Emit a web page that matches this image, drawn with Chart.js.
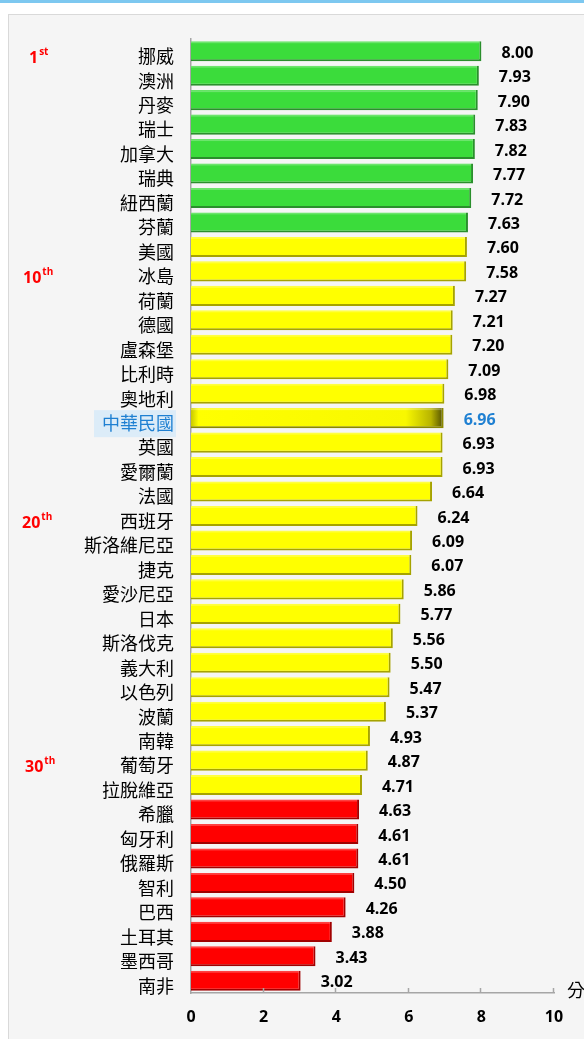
<!DOCTYPE html>
<html><head><meta charset="utf-8">
<script src="https://cdn.jsdelivr.net/npm/chart.js@4.4.1/dist/chart.umd.min.js"></script>
<style>
html,body{margin:0;padding:0;background:#fff;width:584px;height:1039px;overflow:hidden}
#strip{position:absolute;left:0;top:0;width:584px;height:3px;background:#7dc8f0}
#panel{position:absolute;left:8px;top:14px;width:620px;height:1100px;background:#f5f5f5;border:1px solid #d9d9d9}
#wrap{position:absolute;left:0;top:0;width:584px;height:1039px}
</style></head>
<body>
<div id="strip"></div><div id="panel"></div>
<div id="wrap"><canvas id="c"></canvas></div>
<script>
const categories = ['挪威','澳洲','丹麥','瑞士','加拿大','瑞典','紐西蘭','芬蘭','美國','冰島','荷蘭','德國','盧森堡','比利時','奧地利','中華民國','英國','愛爾蘭','法國','西班牙','斯洛維尼亞','捷克','愛沙尼亞','日本','斯洛伐克','義大利','以色列','波蘭','南韓','葡萄牙','拉脫維亞','希臘','匈牙利','俄羅斯','智利','巴西','土耳其','墨西哥','南非'];
const scores = [8.00,7.93,7.90,7.83,7.82,7.77,7.72,7.63,7.60,7.58,7.27,7.21,7.20,7.09,6.98,6.96,6.93,6.93,6.64,6.24,6.09,6.07,5.86,5.77,5.56,5.50,5.47,5.37,4.93,4.87,4.71,4.63,4.61,4.61,4.50,4.26,3.88,3.43,3.02];
const tiers = ['g','g','g','g','g','g','g','g','y','y','y','y','y','y','y','y','y','y','y','y','y','y','y','y','y','y','y','y','y','y','y','r','r','r','r','r','r','r','r'];
const rankMarks = [{num:'1',suf:'st',row:0},{num:'10',suf:'th',row:9},{num:'20',suf:'th',row:19},{num:'30',suf:'th',row:29}];
const xTicks = [0,2,4,6,8,10];
const unitLabel = '分';
const highlight = '中華民國';

const hl = categories.indexOf(highlight);
const fill = {g:'#3bdc3b', y:'#ffff00', r:'#ff0000'};
const edge = {g:'#2a8f2c', y:'#a6a300', r:'#a10000'};
const BLUE = '#1f80d2';
const NUMFONT = '"Open Sans"';

const bgColor = (c) => {
  const i = c.dataIndex;
  if (i === hl && c.chart.chartArea) {
    const xs = c.chart.scales.x;
    const x0 = xs.getPixelForValue(0), x1 = xs.getPixelForValue(scores[i]);
    const g = c.chart.ctx.createLinearGradient(x0, 0, x1, 0);
    g.addColorStop(0, '#c8c800');
    g.addColorStop(0.03, '#ffff00');
    g.addColorStop(0.85, '#f8f800');
    g.addColorStop(0.95, '#b8b400');
    g.addColorStop(1, '#4e4c00');
    return g;
  }
  return fill[tiers[i]];
};

const extras = {
  id: 'extras',
  beforeDraw(chart) {
    const ys = chart.scales.y, ctx = chart.ctx;
    const yc = ys.getPixelForValue(hl) + 6;
    ctx.save();
    ctx.fillStyle = '#dcecf8';
    ctx.fillRect(94, yc - 14, 82, 27);
    ctx.restore();
  },
  afterDatasetsDraw(chart) {
    const ctx = chart.ctx, meta = chart.getDatasetMeta(0);
    const xs = chart.scales.x, ys = chart.scales.y, area = chart.chartArea;
    ctx.save();
    meta.data.forEach((bar) => {
      ctx.fillStyle = 'rgba(255,255,255,0.25)';
      ctx.fillRect(bar.base, bar.y - bar.height / 2, bar.x - bar.base - 2, 2);
    });
    ctx.font = 'bold 16px ' + NUMFONT;
    ctx.textBaseline = 'middle';
    ctx.textAlign = 'left';
    meta.data.forEach((bar, i) => {
      ctx.fillStyle = i === hl ? BLUE : '#000';
      ctx.fillText(scores[i].toFixed(2), bar.x + 20, bar.y + 2);
    });
    ctx.strokeStyle = '#a6a6a6';
    ctx.lineWidth = 1.5;
    xTicks.forEach(v => {
      if (v === 0) return;
      const px = Math.round(xs.getPixelForValue(v)) - 0.5;
      ctx.beginPath();
      ctx.moveTo(px, area.bottom);
      ctx.lineTo(px, area.bottom - 5);
      ctx.stroke();
    });
    ctx.fillStyle = '#000';
    ctx.font = '18px "Noto Sans CJK TC"';
    ctx.textAlign = 'left';
    ctx.fillText(unitLabel, xs.getPixelForValue(10) + 13, area.bottom - 3);
    ctx.fillStyle = '#ff0000';
    const lefts = [29, 23, 22, 25];
    rankMarks.forEach((r, k) => {
      const y = ys.getPixelForValue(r.row) + 7;
      ctx.font = 'bold 16px ' + NUMFONT;
      ctx.textBaseline = 'middle';
      ctx.fillText(r.num, lefts[k], y);
      const w = ctx.measureText(r.num).width;
      ctx.font = 'bold 10px ' + NUMFONT;
      ctx.fillText(r.suf, lefts[k] + w + 1, y - 6);
    });
    ctx.restore();
  }
};

new Chart(document.getElementById('c'), {
  type: 'bar',
  data: {
    labels: categories,
    datasets: [{
      data: scores,
      backgroundColor: bgColor,
      borderColor: (c) => c.dataIndex === hl ? '#8a8800' : edge[tiers[c.dataIndex]],
      borderWidth: {top: 0, right: 2, bottom: 2, left: 0},
      borderSkipped: false,
      categoryPercentage: 1,
      barPercentage: 0.82
    }]
  },
  plugins: [extras],
  options: {
    indexAxis: 'y',
    responsive: true,
    maintainAspectRatio: false,
    animation: false,
    layout: {padding: {top: 39, right: 30, left: 0, bottom: 0}},
    plugins: {legend: {display: false}, tooltip: {enabled: false}},
    scales: {
      x: {
        min: 0, max: 10,
        afterBuildTicks: (s) => { s.ticks = xTicks.map(v => ({value: v})); },
        afterFit: (s) => { s.height = 46; },
        grid: {display: false, drawTicks: false},
        border: {display: true, color: '#a6a6a6', width: 1.5},
        ticks: {color: '#000', font: {family: NUMFONT, weight: 'bold', size: 16}, padding: 15, maxRotation: 0}
      },
      y: {
        afterFit: (s) => { s.width = 191; },
        grid: {display: false, drawTicks: false},
        border: {display: true, color: '#a6a6a6', width: 1.5},
        ticks: {
          color: (c) => c.index === hl ? BLUE : '#000',
          font: {family: '"Noto Sans CJK TC"', size: 18},
          padding: 17,
          labelOffset: 5,
          autoSkip: false
        }
      }
    }
  }
});
</script>
</body></html>
